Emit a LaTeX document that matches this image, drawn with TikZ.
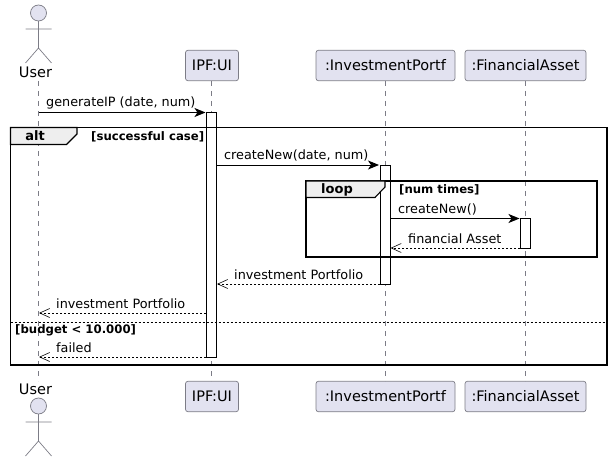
\documentclass[tikz,border=0pt]{standalone}
\usepackage{fontspec}
\setmainfont{DejaVu Sans}
\usetikzlibrary{arrows.meta,calc}
\definecolor{partfill}{HTML}{E2E2F0}
\definecolor{partline}{HTML}{7C7C86}
\definecolor{tabfill}{HTML}{EEEEEE}
\tikzset{
  part/.style={draw=partline, fill=partfill, line width=0.7pt, rounded corners=2.5pt, minimum height=30.5pt, inner sep=0pt, font=\fontsize{14.5}{16}\selectfont},
  actorname/.style={inner sep=0pt, font=\fontsize{14.5}{16}\selectfont},
  lifeline/.style={draw=partline, line width=0.7pt, dash pattern=on 5pt off 5pt},
  actorline/.style={draw=partline, line width=0.7pt},
  bar/.style={draw=black, fill=white, line width=0.9pt, minimum width=10pt, inner sep=0pt},
  callmsg/.style={line width=0.9pt, -{Stealth[length=11pt,width=9pt,inset=3pt]}},
  replymsg/.style={line width=0.6pt, dash pattern=on 2pt off 2pt, -{Straight Barb[length=10pt,width=9pt,line width=0.6pt]}},
  msglabel/.style={anchor=base west, inner sep=0pt, font=\fontsize{12.8}{15}\selectfont},
  guard/.style={anchor=base west, inner sep=0pt, font=\fontsize{11.7}{13}\selectfont\bfseries},
  framekind/.style={inner sep=0pt, font=\fontsize{13}{15}\selectfont\bfseries},
  frameline/.style={draw=black, line width=1.5pt},
  tab/.style={draw=black, fill=tabfill, line width=1.1pt}
}
\begin{document}
\begin{tikzpicture}[x=1pt,y=-1pt]
  \useasboundingbox (0,0) rectangle (612,462);

  % participants
  \node[actorname] at (35.5,72.5) (userTop) {User};
  \node[actorname] at (35.5,389.5) (userBot) {User};
  \node[part, minimum width=53pt] at (212,65.5) (uiTop) {IPF:UI};
  \node[part, minimum width=53pt] at (212,396.5) (uiBot) {IPF:UI};
  \node[part, minimum width=139pt] at (385.5,65.5) (portfTop) {:InvestmentPortf};
  \node[part, minimum width=139pt] at (385.5,396.5) (portfBot) {:InvestmentPortf};
  \node[part, minimum width=121pt] at (525.5,65.5) (assetTop) {:FinancialAsset};
  \node[part, minimum width=121pt] at (525.5,396.5) (assetBot) {:FinancialAsset};

  % lifelines
  \draw[lifeline] (38.5,81) coordinate (userA) -- (38.5,381) coordinate (userB);
  \draw[lifeline] (211,81) coordinate (uiA) -- (211,381) coordinate (uiB);
  \draw[lifeline] (385,81) coordinate (portfA) -- (385,381) coordinate (portfB);
  \draw[lifeline] (525.5,81) coordinate (assetA) -- (525.5,381) coordinate (assetB);

  % actors
  \draw[actorline, fill=partfill] (38.5,13) circle (8);
  \draw[actorline] (38.5,21) -- (38.5,48) (25.5,29) -- (51.5,29) (25.5,63) -- (38.5,48) -- (51.5,63);
  \draw[actorline, fill=partfill] (38.5,406) circle (8);
  \draw[actorline] (38.5,414) -- (38.5,441) (25.5,422) -- (51.5,422) (25.5,456) -- (38.5,441) -- (51.5,456);

  % activations
  \node[bar, minimum height=245pt] at (211.5,235) (uiBar) {};
  \node[bar, minimum height=119pt] at (385,224.5) (portfBar) {};
  \node[bar, minimum height=30pt] at (525,233) (assetBar) {};

  % frames
  \draw[frameline] (10.5,127.5) rectangle (607,365);
  \draw[tab] (10.5,127.5) -- (77,127.5) -- (77,134) -- (66.5,144.5) -- (10.5,144.5) -- cycle;
  \node[framekind] at (35,136) (altKind) {alt};
  \node[guard] at (91,141) (altGuard) {[successful case]};
  \draw[line width=0.8pt, dash pattern=on 2pt off 2pt] (10.5,322.5) coordinate (elseA) -- (607,322.5) coordinate (elseB);
  \node[guard] at (15,333) (elseGuard) {[budget < 10.000]};

  \draw[frameline] (306,181) rectangle (597,257);
  \draw[tab] (306,181) -- (385,181) -- (385,187) -- (375,197.5) -- (306,197.5) -- cycle;
  \node[framekind] at (337,190) (loopKind) {loop};
  \node[guard] at (399,193.5) (loopGuard) {[num times]};

  % messages
  \coordinate (genFrom) at (38.5,112.5);
  \coordinate (genTo) at (205.5,112.5);
  \coordinate (newFrom) at (216.5,165);
  \coordinate (newTo) at (379,165);
  \coordinate (assetFrom) at (390,218.5);
  \coordinate (assetTo) at (519.5,218.5);
  \coordinate (backFrom) at (520,248);
  \coordinate (backTo) at (390.5,248);
  \coordinate (portfFrom) at (380,284);
  \coordinate (portfTo) at (217,284);
  \coordinate (userFrom) at (205.5,313);
  \coordinate (userTo) at (39,313);
  \coordinate (failFrom) at (206,357);
  \coordinate (failTo) at (39,357);

  \draw[callmsg] (genFrom) -- (genTo);
  \draw[callmsg] (newFrom) -- (newTo);
  \draw[callmsg] (assetFrom) -- (assetTo);
  \draw[replymsg] (backFrom) -- (backTo);
  \draw[replymsg] (portfFrom) -- (portfTo);
  \draw[replymsg] (userFrom) -- (userTo);
  \draw[replymsg] (failFrom) -- (failTo);

  \node[msglabel] at (46,107) (genText) {generateIP (date, num)};
  \node[msglabel] at (224,160) (newText) {createNew(date, num)};
  \node[msglabel] at (398,213) (assetText) {createNew()};
  \node[msglabel] at (408,243) (backText) {financial Asset};
  \node[msglabel] at (234,279) (portfText) {investment Portfolio};
  \node[msglabel] at (56,308) (userText) {investment Portfolio};
  \node[msglabel] at (56,352) (failText) {failed};
\end{tikzpicture}
\end{document}
